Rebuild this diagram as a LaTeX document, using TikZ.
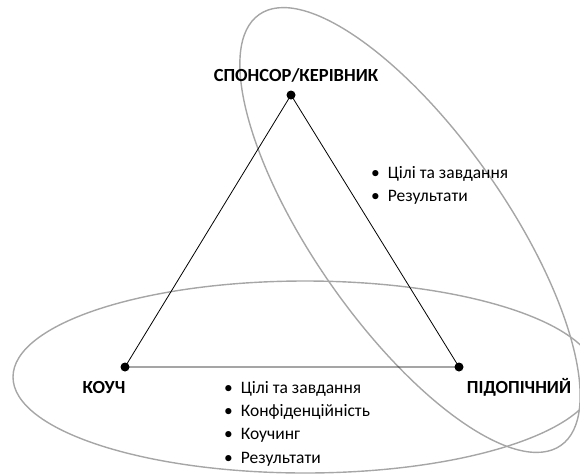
\documentclass[tikz,border=0pt]{standalone}
\usepackage{fontspec}
\setmainfont{Carlito}
\tikzset{
  dot/.style={circle, fill=black, inner sep=0pt, minimum size=9pt},
  role/.style={font=\bfseries\fontsize{18.5}{22}\selectfont, inner sep=0pt},
  items/.style={font=\fontsize{17.5}{23.3}\selectfont, align=left, anchor=north west, inner sep=0pt},
  ring/.style={draw=ringgrey, line width=1.4pt}
}
\begin{document}
\begin{tikzpicture}[x=1pt, y=-1pt]
\definecolor{ringgrey}{HTML}{A6A6A6}
\useasboundingbox (0,0) rectangle (580,474);
% the two circles of the contract
\draw[ring] (305,377) ellipse [x radius=292, y radius=96];
\draw[ring, rotate around={-55:(410,230)}] (410,230) ellipse [x radius=263, y radius=96];
% the three parties
\node[dot] (spons) at (291,95) {};
\node[dot] (coach) at (125,367) {};
\node[dot] (client) at (459,367) {};
\draw[line width=0.8pt] (spons.center) -- (coach.center) -- (client.center) -- cycle;
\node[role] (sponslabel) at (296,75) {СПОНСОР/КЕРІВНИК};
\node[role] (coachlabel) at (104,387) {КОУЧ};
\node[role] (clientlabel) at (519,387) {ПІДОПІЧНИЙ};
% what each side agrees on
\node[items] (sponsitems) at (371,166) {•\hspace{0.45em}Цілі та завдання\\•\hspace{0.45em}Результати};
\node[items] (coachitems) at (224,381) {•\hspace{0.45em}Цілі та завдання\\•\hspace{0.45em}Конфіденційність\\•\hspace{0.45em}Коучинг\\•\hspace{0.45em}Результати};
\end{tikzpicture}
\end{document}
